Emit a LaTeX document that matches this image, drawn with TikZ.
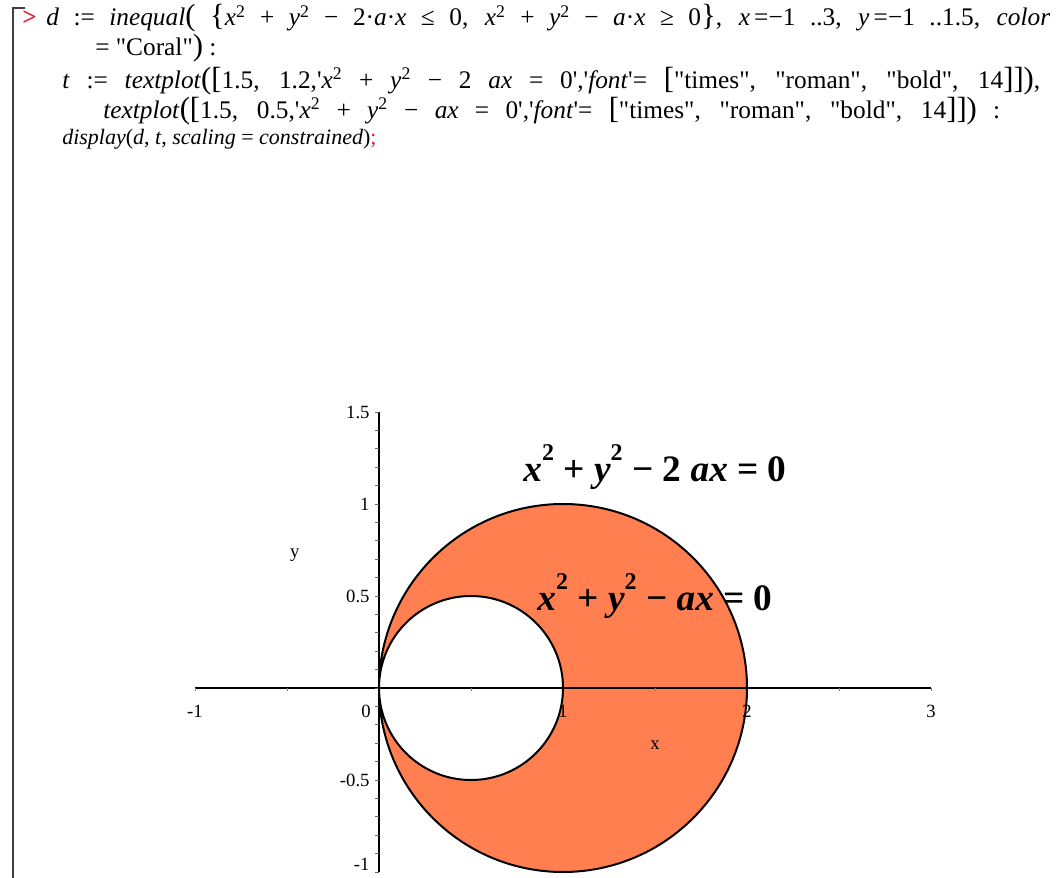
\documentclass[tikz,border=0pt]{standalone}
\usepackage{fontspec}
\setmainfont{Liberation Serif}
\usepackage{tikz}
\usepackage{xcolor}
\usetikzlibrary{positioning}
\definecolor{maplered}{RGB}{215,30,50}
\definecolor{maplecoral}{RGB}{255,127,80}
\newcommand{\ita}[1]{\textit{#1}}
\newcommand{\sqr}{\textsuperscript{2}}
\newcommand{\dq}{\textquotedbl}
\newcommand{\sq}{\textquotesingle}
\newcommand{\bsq}{\raisebox{0.55em}{\fontsize{18}{18}\selectfont 2}}
\newcommand{\bigp}[1]{{\fontsize{23}{23}\selectfont #1}}

\begin{document}
\begin{tikzpicture}[x=0.75pt,y=-0.75pt,
  codeline/.style={anchor=base west,inner sep=0pt,font=\fontsize{19}{22}\selectfont},
  ticklab/.style={inner sep=0pt,font=\fontsize{14}{16}\selectfont},
  curvelab/.style={inner sep=0pt,font=\fontsize{28}{32}\selectfont\bfseries}]
  \useasboundingbox (0,0) rectangle (1057,878);
  % 左侧的组括号
  \draw[line width=2pt,black!75] (25,8) -- (13,8) -- (13,878);
  % Maple 命令
  \node[codeline,text=maplered] (prompt) at (22,26) {\textbf{>}};
  \node[codeline] (cmdd) at (46,26) {\makebox[753pt][s]{\ita{d} := \ita{inequal}\bigp{(} \bigp{\{}\ita{x}\sqr{} + \ita{y}\sqr{} − 2·\ita{a}·\ita{x} ≤ 0, \ita{x}\sqr{} + \ita{y}\sqr{} − \ita{a}·\ita{x} ≥ 0\bigp{\}}, \ita{x}\,=−1 ..3, \ita{y}\,=−1 ..1.5, \ita{color}}};
  \node[codeline] (cmdcol) at (95,55) {= \dq{}Coral\dq\bigp{)} :};
  \node[codeline] (cmdt) at (62,88) {\makebox[733.5pt][s]{\ita{t} := \ita{textplot}\bigp{(}\bigp{[}1.5, 1.2,\sq\ita{x}\sqr{} + \ita{y}\sqr{} − 2 \ita{ax} = 0\sq,\sq\ita{font}\sq= \bigp{[}\dq{}times\dq, \dq{}roman\dq, \dq{}bold\dq, 14\bigp{]}\bigp{]}\bigp{)},}};
  \node[codeline] (cmdt2) at (103,118) {\makebox[672.75pt][s]{\ita{textplot}\bigp{(}\bigp{[}1.5, 0.5,\sq\ita{x}\sqr{} + \ita{y}\sqr{} − \ita{ax} = 0\sq,\sq\ita{font}\sq= \bigp{[}\dq{}times\dq, \dq{}roman\dq, \dq{}bold\dq, 14\bigp{]}\bigp{]}\bigp{)} :}};
  \node[codeline,font=\fontsize{16.5}{19}\selectfont] (cmddisp) at (62,144) {\ita{display}(\ita{d}, \ita{t}, \ita{scaling} = \ita{constrained})\textcolor{maplered}{;}};
  % 作图区, 单位长度 = 184px
  \begin{scope}[shift={(379,688)},x=138pt,y=138pt]
    \coordinate (O) at (0,0);
    \coordinate (C1) at (1,0);
    \coordinate (C2) at (0.5,0);
    \fill[maplecoral,even odd rule] (C1) circle (1) (C2) circle (0.5);
    \draw[line width=1.1pt] (-1,0) -- (3,0);
    \draw[line width=1.1pt] (0,-1) -- (0,1.5);
    \foreach \k in {-10,...,15}
      \draw[black!60,line width=0.5pt] (0,\k/10) -- ++(-0.022,0);
    \foreach \k in {-2,...,6}
      \draw[black!50,line width=0.5pt] (\k/2,0) -- ++(0,-0.015);
    \draw[line width=1.5pt] (C1) circle (1) (C2) circle (0.5);
    % 刻度
    \foreach \v [count=\i] in {-1,1,2,3}
      \node[ticklab] (xt\i) at (\v,-0.125) {\v};
    \node[ticklab] (xt0) at (-0.07,-0.125) {0};
    \foreach \v/\t [count=\i] in {1.5/1.5,1/1,0.5/0.5,-0.5/-0.5}
      \node[ticklab,anchor=east] (yt\i) at (-0.05,\v) {\t};
    \node[ticklab,anchor=south east] (yt5) at (-0.05,-0.995) {-1};
    \node[ticklab] (xname) at (1.5,-0.31) {x};
    \node[ticklab] (yname) at (-0.457,0.72) {y};
    % 曲线名
    \node[curvelab] (eqbig) at (1.5,1.2) {\ita{x}\bsq{} + \ita{y}\bsq{} − 2 \ita{ax} = 0};
    \node[curvelab] (eqsmall) at (1.5,0.5) {\ita{x}\bsq{} + \ita{y}\bsq{} − \ita{ax} = 0};
  \end{scope}
\end{tikzpicture}
\end{document}
